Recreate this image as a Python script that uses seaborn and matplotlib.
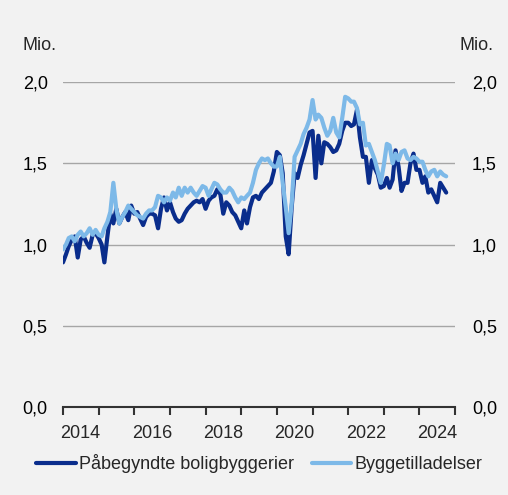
import numpy as np
import pandas as pd
import seaborn as sns
import matplotlib.pyplot as plt
import matplotlib.dates as mdates
from matplotlib.ticker import FixedLocator, FuncFormatter

# monthly data, Jan 2014 - Oct 2024 (mio.)
dates = pd.date_range("2014-01-01", periods=130, freq="MS")

starts = [
    0.89, 0.94, 0.99, 1.03, 1.05, 0.92, 1.03, 1.05, 1.01, 0.98, 1.06, 1.07,  # 2014
    1.04, 1.00, 0.89, 1.05, 1.19, 1.13, 1.22, 1.13, 1.17, 1.20, 1.15, 1.24,  # 2015
    1.19, 1.20, 1.16, 1.12, 1.17, 1.19, 1.19, 1.18, 1.10, 1.22, 1.29, 1.21,  # 2016
    1.26, 1.20, 1.16, 1.14, 1.15, 1.19, 1.22, 1.24, 1.26, 1.27, 1.26, 1.28,  # 2017
    1.22, 1.27, 1.29, 1.30, 1.34, 1.31, 1.19, 1.26, 1.24, 1.20, 1.18, 1.14,  # 2018
    1.10, 1.21, 1.13, 1.23, 1.29, 1.30, 1.28, 1.32, 1.34, 1.36, 1.38, 1.45,  # 2019
    1.57, 1.55, 1.44, 1.05, 0.94, 1.23, 1.44, 1.41, 1.49, 1.55, 1.62, 1.69,  # 2020
    1.70, 1.41, 1.67, 1.50, 1.63, 1.62, 1.60, 1.57, 1.58, 1.62, 1.70, 1.75,  # 2021
    1.75, 1.73, 1.74, 1.83, 1.66, 1.54, 1.54, 1.38, 1.52, 1.47, 1.43, 1.35,  # 2022
    1.36, 1.41, 1.35, 1.40, 1.58, 1.48, 1.33, 1.38, 1.38, 1.50, 1.56, 1.46,  # 2023
    1.46, 1.38, 1.42, 1.32, 1.34, 1.30, 1.26, 1.38, 1.35, 1.32,              # 2024
]

permits = [
    0.97, 1.00, 1.04, 1.05, 1.02, 1.06, 1.08, 1.05, 1.07, 1.10, 1.06, 1.09,  # 2014
    1.06, 1.05, 1.10, 1.14, 1.20, 1.38, 1.22, 1.13, 1.17, 1.20, 1.24, 1.22,  # 2015
    1.20, 1.18, 1.17, 1.16, 1.19, 1.21, 1.21, 1.23, 1.30, 1.29, 1.26, 1.29,  # 2016
    1.27, 1.32, 1.29, 1.35, 1.30, 1.35, 1.32, 1.35, 1.32, 1.30, 1.33, 1.36,  # 2017
    1.35, 1.30, 1.34, 1.38, 1.37, 1.34, 1.32, 1.32, 1.35, 1.33, 1.29, 1.26,  # 2018
    1.29, 1.28, 1.30, 1.32, 1.38, 1.46, 1.50, 1.53, 1.52, 1.53, 1.50, 1.48,  # 2019
    1.48, 1.54, 1.38, 1.23, 1.07, 1.25, 1.54, 1.58, 1.62, 1.68, 1.72, 1.77,  # 2020
    1.89, 1.77, 1.80, 1.78, 1.72, 1.67, 1.70, 1.78, 1.69, 1.66, 1.78, 1.91,  # 2021
    1.90, 1.88, 1.88, 1.84, 1.74, 1.75, 1.61, 1.62, 1.57, 1.52, 1.45, 1.38,  # 2022
    1.49, 1.62, 1.61, 1.50, 1.56, 1.52, 1.57, 1.58, 1.53, 1.52, 1.54, 1.53,  # 2023
    1.51, 1.51, 1.46, 1.42, 1.45, 1.46, 1.42, 1.45, 1.43, 1.42,              # 2024
]

labels = ["Påbegyndte boligbyggerier", "Byggetilladelser"]
colors = ["#0a2d8c", "#7db9e8"]
y_ticks = [0.0, 0.5, 1.0, 1.5, 2.0]
x_label_years = [2014, 2016, 2018, 2020, 2022, 2024]

df = pd.DataFrame({
    "date": np.concatenate([dates, dates]),
    "value": starts + permits,
    "serie": [labels[0]] * len(starts) + [labels[1]] * len(permits),
})

sns.set_style("white")
plt.rcParams["font.family"] = ["Liberation Sans", "DejaVu Sans"]
fs = 13

bg = "#f2f2f2"
fig = plt.figure(figsize=(5.08, 4.95), dpi=100, facecolor=bg)
ax = fig.add_axes([0.124, 0.178, 0.772, 0.656], facecolor=bg)

sns.lineplot(data=df, x="date", y="value", hue="serie", hue_order=labels,
             palette=colors, linewidth=3.0, ax=ax, legend=False)

ax.set_ylim(0, 2.0)
ax.set_xlim(pd.Timestamp("2014-01-01"), pd.Timestamp("2025-01-01"))
ax.set_xlabel("")
ax.set_ylabel("")

# gridlines
for v in y_ticks[1:]:
    ax.axhline(v, color="#a6a6a6", lw=1.0, zorder=0)

for s in ["top", "left", "right"]:
    ax.spines[s].set_visible(False)
ax.spines["bottom"].set_color("#333333")
ax.spines["bottom"].set_linewidth(1.5)

fmt = FuncFormatter(lambda v, p: f"{v:.1f}".replace(".", ","))
ax.yaxis.set_major_locator(FixedLocator(y_ticks))
ax.yaxis.set_major_formatter(fmt)
ax.tick_params(axis="y", length=0, pad=11, labelsize=fs, colors="black")

ax2 = ax.twinx()
ax2.set_ylim(ax.get_ylim())
ax2.yaxis.set_major_locator(FixedLocator(y_ticks))
ax2.yaxis.set_major_formatter(fmt)
ax2.tick_params(axis="y", length=0, pad=12, labelsize=fs, colors="black")
for s in ax2.spines.values():
    s.set_visible(False)

# year ticks at year start, labels mid-year on even years
ax.xaxis.set_major_locator(mdates.YearLocator())
ax.xaxis.set_major_formatter(plt.NullFormatter())
ax.xaxis.set_minor_locator(FixedLocator(
    [mdates.date2num(pd.Timestamp(f"{y}-07-01")) for y in x_label_years]))
ax.xaxis.set_minor_formatter(FuncFormatter(
    lambda v, p: str(mdates.num2date(v).year)))
ax.tick_params(axis="x", which="major", direction="out", length=6,
               width=1.5, color="#333333", bottom=True)
ax.tick_params(axis="x", which="minor", length=0, pad=13, labelsize=fs)

fig.text(0.045, 0.909, "Mio.", fontsize=fs, ha="left", va="center")
fig.text(0.972, 0.909, "Mio.", fontsize=fs, ha="right", va="center")

handles = [plt.Line2D([], [], color=c, lw=3.0) for c in colors]
fig.legend(handles, labels, loc="center", bbox_to_anchor=(0.51, 0.064),
           ncol=2, frameon=False, fontsize=fs, handlelength=2.2,
           handletextpad=0.15, columnspacing=1.0)

fig.savefig("out.png", dpi=100, facecolor=bg)
